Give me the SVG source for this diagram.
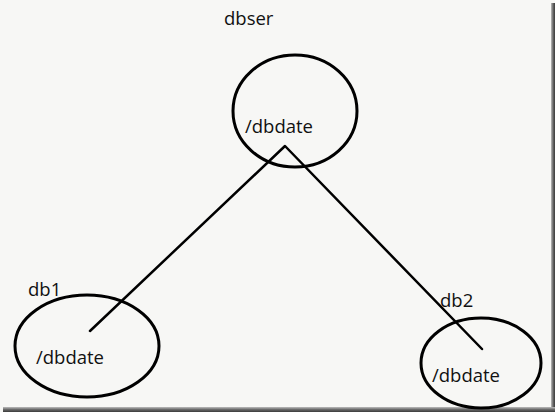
<svg xmlns="http://www.w3.org/2000/svg" width="555" height="412" viewBox="0 0 555 412">
<defs>
<linearGradient id="sr" x1="0" y1="0" x2="1" y2="0"><stop offset="0" stop-color="#bdbdbd"/><stop offset="0.5" stop-color="#6a6a6a"/><stop offset="1" stop-color="#3a3a3a"/></linearGradient>
<linearGradient id="sb" x1="0" y1="0" x2="0" y2="1"><stop offset="0" stop-color="#bdbdbd"/><stop offset="0.5" stop-color="#6a6a6a"/><stop offset="1" stop-color="#3a3a3a"/></linearGradient>
</defs>
<style>
.n{fill:none;stroke:#000;stroke-width:3}
.c{stroke:#000;stroke-width:2.5;fill:none;stroke-linecap:round;stroke-linejoin:round}
text{font-family:"Open Sans","Noto Sans",sans-serif;font-size:18.5px;fill:#111}
</style>
<rect x="0" y="0" width="555" height="412" fill="#f7f7f5"/>
<rect x="551" y="3" width="4" height="409" fill="url(#sr)"/>
<rect x="3" y="407" width="552" height="5" fill="url(#sb)"/>
<g id="connectors">
<polyline class="c" points="90,331 285,146 482,349"/>
</g>
<g id="dbser">
<text x="224" y="25">dbser</text>
<ellipse class="n" cx="295" cy="111" rx="62" ry="56"/>
<text x="245" y="133">/dbdate</text>
</g>
<g id="db1">
<text x="28" y="296">db1</text>
<ellipse class="n" cx="87" cy="346" rx="72" ry="51"/>
<text x="36" y="364">/dbdate</text>
</g>
<g id="db2">
<text x="440" y="307">db2</text>
<ellipse class="n" cx="481" cy="363" rx="60" ry="45"/>
<text x="432" y="382">/dbdate</text>
</g>
</svg>
